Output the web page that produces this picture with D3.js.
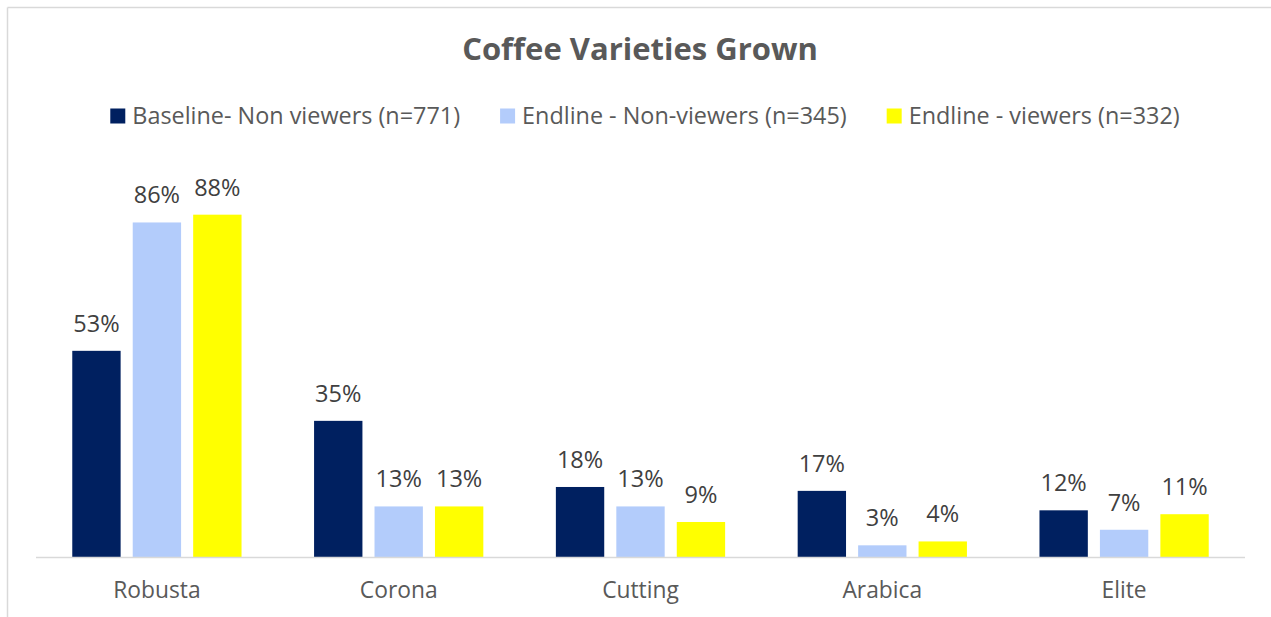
<!DOCTYPE html>
<html>
<head>
<meta charset="utf-8">
<script src="https://cdn.jsdelivr.net/npm/d3@7"></script>
<style>
  html, body { margin: 0; padding: 0; background: #fff; }
  svg { display: block; font-family: "Open Sans", "Noto Sans", sans-serif; }
</style>
</head>
<body>
<svg id="chart" width="1271" height="617"></svg>
<script>
// Coffee varieties grown, share of farmers by survey group
const categories = ["Robusta", "Corona", "Cutting", "Arabica", "Elite"];
const seriesNames = [
  "Baseline- Non viewers (n=771)",
  "Endline - Non-viewers (n=345)",
  "Endline - viewers (n=332)"
];
const baselineNonViewers = [53, 35, 18, 17, 12];
const endlineNonViewers = [86, 13, 13, 3, 7];
const endlineViewers = [88, 13, 9, 4, 11];
const seriesColors = ["#002060", "#B3CCFB", "#FFFF00"];

const seriesValues = [baselineNonViewers, endlineNonViewers, endlineViewers];

const svg = d3.select("#chart");
const W = 1271, H = 617;

// Outer frame (top and left edges visible)
svg.append("line").attr("x1", 7.5).attr("x2", W).attr("y1", 7.5).attr("y2", 7.5)
  .attr("stroke", "#d9d9d9").attr("stroke-width", 1.5);
svg.append("line").attr("x1", 7.5).attr("x2", 7.5).attr("y1", 7.5).attr("y2", H)
  .attr("stroke", "#d9d9d9").attr("stroke-width", 1.5);

// Title
svg.append("text")
  .attr("x", 640).attr("y", 60)
  .attr("text-anchor", "middle")
  .attr("font-size", 31).attr("font-weight", 700)
  .attr("fill", "#595959")
  .text("Coffee Varieties Grown");

// Scales
const plotLeft = 36, plotRight = 1245, baseY = 557, topY = 168;
const x0 = d3.scaleBand().domain(categories).range([plotLeft, plotRight]).padding(0);
const x1 = d3.scaleBand().domain(d3.range(seriesNames.length))
  .range([0, x0.bandwidth()]).paddingInner(0.2).paddingOuter(0.6);
const y = d3.scaleLinear().domain([0, 100]).range([baseY, topY]);

// Bars
const groups = svg.append("g").selectAll("g")
  .data(categories)
  .join("g")
  .attr("transform", d => `translate(${x0(d)},0)`);

groups.selectAll("rect")
  .data((d, i) => seriesValues.map((vals, s) => ({ s, v: vals[i] })))
  .join("rect")
  .attr("x", d => x1(d.s))
  .attr("width", x1.bandwidth())
  .attr("y", d => y(d.v))
  .attr("height", d => y(0) - y(d.v))
  .attr("fill", d => seriesColors[d.s]);

// Value labels
groups.selectAll("text")
  .data((d, i) => seriesValues.map((vals, s) => ({ s, v: vals[i] })))
  .join("text")
  .attr("x", d => x1(d.s) + x1.bandwidth() / 2)
  .attr("y", d => y(d.v) - 19)
  .attr("text-anchor", "middle")
  .attr("font-size", 23.5)
  .attr("fill", "#404040")
  .text(d => d.v + "%");

// Category axis
const xAxis = svg.append("g")
  .attr("transform", `translate(0,${baseY})`)
  .call(d3.axisBottom(x0).tickSize(0).tickPadding(25));
xAxis.select(".domain").attr("stroke", "#d9d9d9").attr("stroke-width", 1.5)
  .attr("d", `M${plotLeft},0.5H${plotRight}`);
xAxis.selectAll("text")
  .attr("font-family", "\"Open Sans\", \"Noto Sans\", sans-serif")
  .attr("font-size", 22.8)
  .attr("fill", "#595959");

// Legend, centred above the plot
const legend = svg.append("g");
const items = legend.selectAll("g").data(seriesNames).join("g");
items.append("rect")
  .attr("width", 15).attr("height", 15)
  .attr("y", 108.5)
  .attr("fill", (d, i) => seriesColors[i]);
items.append("text")
  .attr("x", 22).attr("y", 124)
  .attr("font-size", 23.4)
  .attr("fill", "#595959")
  .text(d => d);

let cursor = 0;
items.each(function () {
  const g = d3.select(this);
  g.attr("transform", `translate(${cursor},0)`);
  const w = g.select("text").node().getComputedTextLength();
  cursor += 22 + w + 40;
});
const legendWidth = cursor - 40;
legend.attr("transform", `translate(${645 - legendWidth / 2},0)`);
</script>
</body>
</html>
